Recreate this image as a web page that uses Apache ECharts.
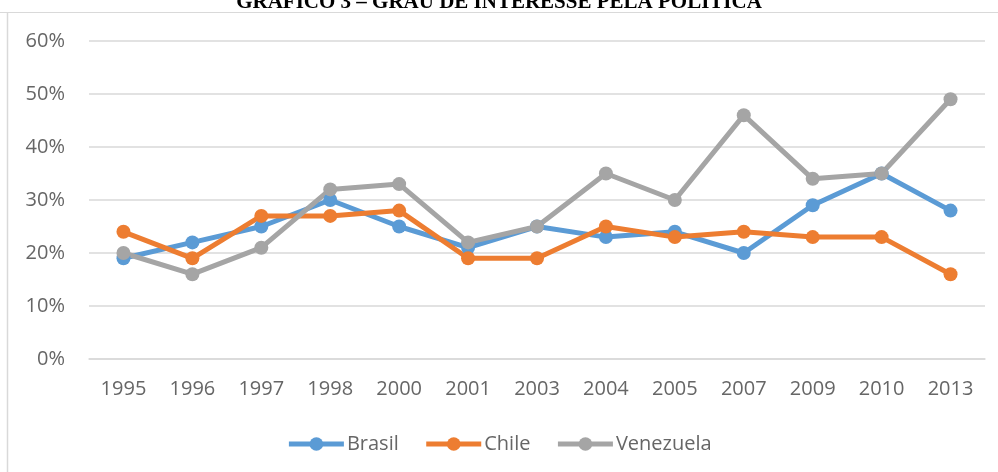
<!DOCTYPE html>
<html><head><meta charset="utf-8">
<script src="https://cdn.jsdelivr.net/npm/echarts@6/dist/echarts.min.js"></script>
<style>html,body{margin:0;padding:0;background:#fff}#c{width:998px;height:472px}</style>
</head><body><div id="c"></div>
<script>
const titleText = "GRÁFICO 3 – GRAU DE INTERESSE PELA POLÍTICA";
const years = ["1995","1996","1997","1998","2000","2001","2003","2004","2005","2007","2009","2010","2013"];
const brasil = [19,22,25,30,25,21,25,23,24,20,29,35,28];
const chile = [24,19,27,27,28,19,19,25,23,24,23,23,16];
const venezuela = [20,16,21,32,33,22,25,35,30,46,34,35,49];
const seriesNames = ["Brasil","Chile","Venezuela"];
const colors = ["#5B9BD5","#ED7D31","#A5A5A5"];

const chart = echarts.init(document.getElementById('c'), null, {renderer:'canvas'});
function mk(name, data, color){
  return {name, type:'line', data, color, symbol:'circle', symbolSize:14,
    lineStyle:{width:5,color}, itemStyle:{color}, z: 2};
}
chart.setOption({
  animation:false,
  title:{text:titleText,left:'center',top:-13,
    textStyle:{fontFamily:'Liberation Serif',fontWeight:'bold',fontSize:21,color:'#000'}},
  graphic:[
    {type:'line',shape:{x1:0,y1:12.5,x2:998,y2:12.5},style:{stroke:'#d9d9d9',lineWidth:1}},
    {type:'line',shape:{x1:7.5,y1:12,x2:7.5,y2:472},style:{stroke:'#d9d9d9',lineWidth:1.5}}
  ],
  grid:{left:89,right:13,top:41,bottom:113},
  legend:{data:seriesNames,top:429,left:'center',itemWidth:55,itemHeight:17,itemGap:25,
    lineStyle:{width:5},
    textStyle:{fontFamily:'Open Sans',fontSize:20,color:'#666666',padding:[0,0,0,-2]}},
  xAxis:{type:'category',data:years,boundaryGap:true,
    axisLine:{show:true,lineStyle:{color:'#d9d9d9',width:1.5}},axisTick:{show:false},
    axisLabel:{fontFamily:'Open Sans',fontSize:20,color:'#666666',margin:20}},
  yAxis:{type:'value',min:0,max:60,interval:10,
    axisLabel:{formatter:'{value}%',fontFamily:'Open Sans',fontSize:20,color:'#666666',margin:24},
    splitLine:{lineStyle:{color:'#d9d9d9',width:1.5}},axisLine:{show:false},axisTick:{show:false}},
  series:[mk(seriesNames[0],brasil,colors[0]),mk(seriesNames[1],chile,colors[1]),mk(seriesNames[2],venezuela,colors[2])]
});
</script></body></html>
